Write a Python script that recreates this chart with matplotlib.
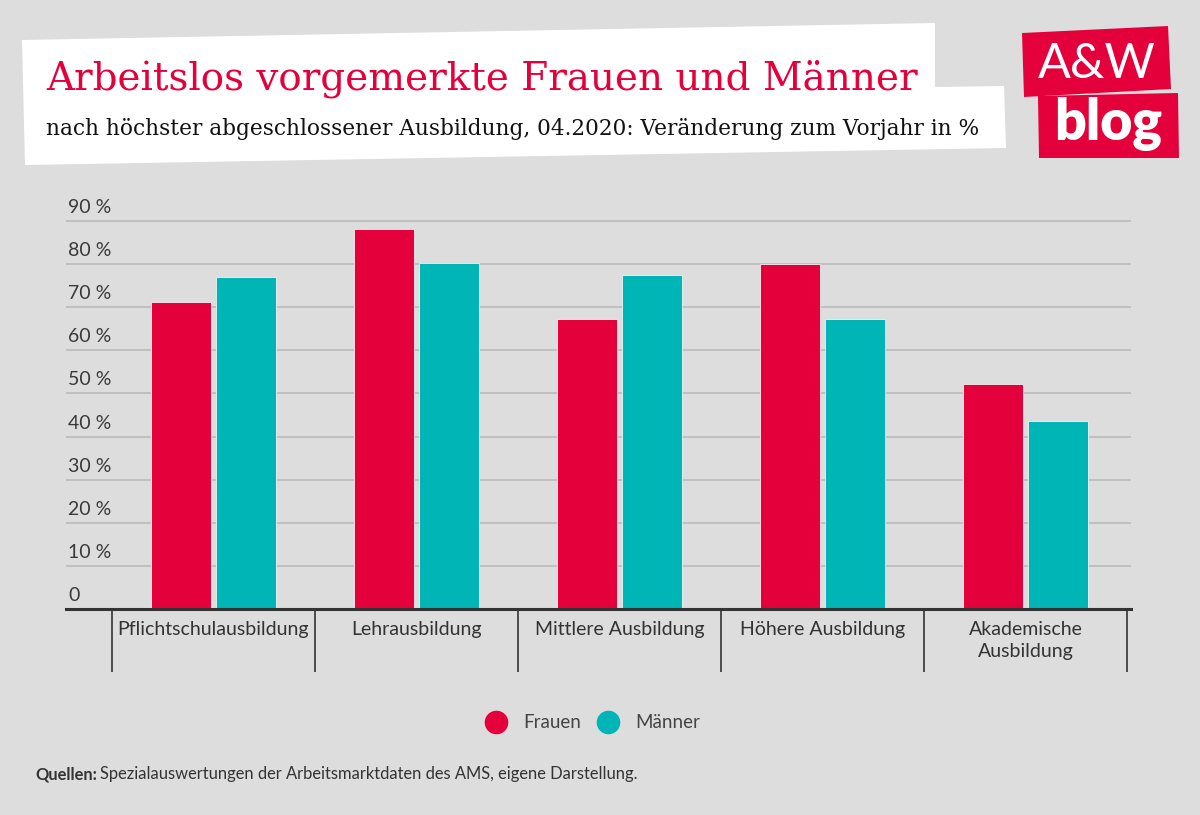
import numpy as np
import matplotlib.pyplot as plt
from matplotlib.patches import Polygon
from matplotlib.lines import Line2D

# Arbeitslos vorgemerkte Frauen und Männer, 04.2020, Veränderung zum Vorjahr in %
kategorien = ['Pflichtschulausbildung', 'Lehrausbildung', 'Mittlere Ausbildung',
              'Höhere Ausbildung', 'Akademische\nAusbildung']
frauen = [71.1, 88.1, 67.2, 80.0, 52.3]
maenner = [77.1, 80.2, 77.4, 67.2, 43.6]
serien = ['Frauen', 'Männer']
y_ticks = [0, 10, 20, 30, 40, 50, 60, 70, 80, 90]
y_labels = ['0', '10 %', '20 %', '30 %', '40 %', '50 %', '60 %', '70 %', '80 %', '90 %']

ROT = '#e4003a'
TUERKIS = '#00b5b5'
HG = '#dddddd'
DUNKEL = '#333333'

plt.rcParams['font.family'] = ['Lato', 'DejaVu Sans']

fig = plt.figure(figsize=(12, 8.15), dpi=100)
fig.patch.set_facecolor(HG)

# Hintergrund-Ebene in Pixelkoordinaten (Titelbox, Logo, Quelle)
bg = fig.add_axes([0, 0, 1, 1], zorder=0)
bg.set_xlim(0, 1200)
bg.set_ylim(815, 0)
bg.axis('off')

box = Polygon([(22, 40), (935, 23), (935, 87), (1004, 86), (1006, 148), (25, 165)],
              closed=True, fc='white', ec='none')
bg.add_patch(box)
bg.text(46, 90, 'Arbeitslos vorgemerkte Frauen und Männer', color=ROT,
        family='DejaVu Serif', fontsize=28, va='baseline')
bg.text(46, 135, 'nach höchster abgeschlossener Ausbildung, 04.2020: Veränderung zum Vorjahr in %',
        color='#111111', family='DejaVu Serif', fontsize=15.6, va='baseline')

# Logo
bg.add_patch(Polygon([(1022, 33), (1168, 26), (1171, 89), (1024, 97)], fc=ROT, ec='none'))
bg.add_patch(Polygon([(1038, 96), (1178, 93), (1179, 158), (1039, 158)], fc=ROT, ec='none'))
bg.text(1097, 64, 'A&W', color='white', fontsize=35, weight='normal', ha='center', va='center')
bg.text(1108, 124, 'blog', color='white', fontsize=40, weight='heavy', ha='center', va='center')

# Diagramm
px_pro_einheit = (609 - 221) / 90
ax = fig.add_axes([66 / 1200, 1 - 609 / 815, (1131 - 66) / 1200,
                   90.5 * px_pro_einheit / 815], zorder=1)
ax.set_facecolor('none')

x = np.arange(len(kategorien))
b = 0.30
ax.bar(x - 0.16, frauen, b, color=ROT, edgecolor='#f2f2f2', linewidth=0.6,
       label=serien[0], zorder=3)
ax.bar(x + 0.16, maenner, b, color=TUERKIS, edgecolor='#f2f2f2', linewidth=0.6,
       label=serien[1], zorder=3)

ax.set_xlim(-0.7266, 4.5197)
ax.set_ylim(0, 90.5)
ax.set_yticks(y_ticks[1:])
ax.yaxis.grid(True, color='#bbbbbb', lw=1.2)
ax.set_axisbelow(True)
ax.tick_params(length=0, labelbottom=False, labelleft=False)
for s in ['top', 'right', 'left']:
    ax.spines[s].set_visible(False)
ax.spines['bottom'].set_color(DUNKEL)
ax.spines['bottom'].set_linewidth(2.2)
ax.spines['bottom'].set_zorder(4)

for v, lab in zip(y_ticks, y_labels):
    ax.annotate(lab, xy=(0, v), xycoords=('axes fraction', 'data'),
                xytext=(2, 8), textcoords='offset pixels',
                fontsize=14, color='#3a3a3a', ha='left', va='baseline')

# Trennstriche und Kategorienbeschriftung
ax.vlines(np.arange(len(kategorien) + 1) - 0.5, -63 / (90.5 * px_pro_einheit), 0,
          transform=ax.get_xaxis_transform(), colors=DUNKEL, lw=1.2, clip_on=False)
for i, k in enumerate(kategorien):
    ax.annotate(k, xy=(i, 0), xycoords=('data', 'axes fraction'),
                xytext=(0, -12), textcoords='offset pixels',
                ha='center', va='top', fontsize=14, color=DUNKEL, linespacing=1.35)

# Legende mit Kreisen
handles = [Line2D([], [], marker='o', ls='none', ms=17, mfc=c, mec='none', label=s)
           for c, s in zip([ROT, TUERKIS], serien)]
fig.legend(handles=handles, loc='center', bbox_to_anchor=(592 / 1200, 1 - 723 / 815),
           ncol=2, frameon=False, fontsize=13.5, handlelength=1.3,
           handletextpad=0.8, columnspacing=0.8, labelcolor='#444444')

# Quelle
t1 = bg.text(35, 779, 'Quellen:', weight='bold', fontsize=11.9, color=DUNKEL, va='baseline')
bg.annotate('Spezialauswertungen der Arbeitsmarktdaten des AMS, eigene Darstellung.',
            xy=(1, 0), xycoords=t1, xytext=(3, 0), textcoords='offset pixels',
            fontsize=11.9, color=DUNKEL, ha='left', va='bottom')

fig.savefig('out.png', dpi=100, facecolor=HG)
